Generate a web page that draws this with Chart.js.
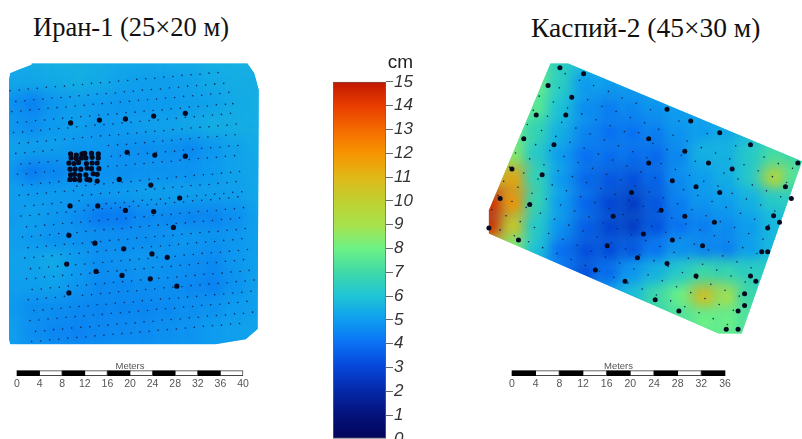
<!DOCTYPE html>
<html>
<head>
<meta charset="utf-8">
<script src="https://cdn.jsdelivr.net/npm/chart.js@4/dist/chart.umd.js"></script>
<style>
  html, body { margin: 0; background: #fff; width: 802px; height: 439px; overflow: hidden; }
  canvas, .head { position: absolute; }
  .head { font: 26.5px "Liberation Serif", serif; color: #111; white-space: nowrap; }
</style>
</head>
<body>
<div class="head" style="left:33px;top:12px">Иран-1 (25×20 м)</div>
<div class="head" style="left:531px;top:12px;font-size:27.5px">Каспий-2 (45×30 м)</div>
<canvas id="iran" width="270" height="300" style="left:0;top:50px"></canvas>
<canvas id="caspian" width="322" height="300" style="left:480px;top:50px"></canvas>
<canvas id="legend" width="80" height="420" style="left:333px;top:50px"></canvas>
<canvas id="iran-bar" width="270" height="38" style="left:0;top:355px"></canvas>
<canvas id="caspian-bar" width="270" height="38" style="left:490px;top:355px"></canvas>
<script>
// colour scale, cm
const scaleStops = [0, 1, 2, 3, 4, 5, 6, 7, 8, 9, 10, 11, 12, 13, 14, 15];
const scaleColors = ['#02065a', '#03117a', '#0528a8', '#0645d8', '#0a70f4', '#0f9cf0', '#1fc4d6', '#3fd9a8',
  '#6ef285', '#a8e24c', '#c0d030', '#e0b818', '#f79400', '#f56a00', '#e83c00', '#c01800'];
const scaleTicks = [0, 1, 2, 3, 4, 5, 6, 7, 8, 9, 10, 11, 12, 13, 14, 15];

// Iran-1: metres from the corner of the frame, settlement in cm
const iranCols = [2, 6, 10, 14, 18, 22, 26, 30, 34, 38, 42, 46];
const iranRows = [2, 6, 10, 14, 18, 22, 26, 30, 34, 38, 42, 46, 50];
const iranField = [
  [5.5, 5.5, 5.6, 5.6, 5.5, 5.4, 5.4, 5.5, 5.5, 5.6, 5.6, 5.6],
  [5.3, 5.3, 5.4, 5.5, 5.4, 5.2, 5.1, 5.1, 5.2, 5.4, 5.5, 5.5],
  [4.8, 4.4, 4.9, 5.1, 5.0, 4.9, 5.0, 5.0, 5.1, 5.2, 5.4, 5.5],
  [4.9, 4.7, 5.0, 5.1, 4.9, 5.0, 5.1, 5.2, 5.3, 5.5, 5.5, 5.5],
  [5.2, 5.1, 5.1, 4.9, 4.9, 4.8, 4.7, 4.8, 4.6, 4.9, 5.2, 5.4],
  [4.9, 4.3, 4.5, 4.7, 4.8, 4.7, 4.8, 4.8, 4.8, 5.0, 5.2, 5.3],
  [5.1, 5.0, 5.0, 5.0, 4.9, 5.0, 5.1, 5.1, 5.1, 5.1, 5.1, 5.3],
  [5.0, 5.1, 4.9, 4.7, 4.2, 4.2, 4.6, 4.6, 4.5, 4.5, 4.7, 5.1],
  [5.1, 5.0, 4.8, 4.8, 4.7, 4.7, 4.7, 4.8, 4.9, 4.8, 4.9, 5.1],
  [5.2, 5.2, 5.4, 5.0, 4.7, 4.8, 4.9, 4.8, 4.7, 4.6, 4.9, 5.1],
  [5.1, 5.1, 5.2, 4.9, 4.6, 4.6, 4.7, 4.7, 4.6, 4.4, 4.8, 5.1],
  [5.0, 4.7, 4.7, 4.6, 4.5, 4.5, 4.5, 4.6, 4.7, 4.8, 5.0, 5.1],
  [5.1, 4.7, 4.5, 4.4, 4.5, 4.6, 4.6, 4.7, 4.8, 5.0, 5.1, 5.2]
];
const iranOutline = [[1.6, 5.3], [1.8, 4.1], [3.5, 3.4], [5.6, 2.6], [5.6, 2.4], [43.8, 2.4], [45, 4.1], [45.8, 7.1],
  [45.6, 49.4], [43.5, 51.2], [38.2, 52.1], [1.8, 52.1], [1.6, 51.2]];
const iranLarge = [[12.5, 12.9], [17.6, 12.4], [22.2, 12.2], [27.2, 11.7], [32.8, 11.2], [22.5, 18.1], [27.4, 18.6],
  [32.8, 18.8], [21.1, 22.9], [26.7, 23.9], [31.8, 26.2], [12.4, 27.6], [17.3, 27.6], [22.2, 28.4], [27.2, 28.6],
  [30.7, 31.4], [12.2, 32.8], [16.8, 34.2], [21.9, 35.2], [26.9, 36.1], [29.6, 36.7], [11.8, 37.9], [17, 39.2],
  [21.6, 39.9], [26.6, 40.5], [31.3, 41.8], [12.2, 43],
  [12.5, 18.4], [13.5, 18.6], [14.5, 18.4], [15, 18.3], [16.2, 18.3], [17.4, 18.4],
  [12.6, 19.1], [13.5, 19.2], [14.4, 19.1], [15.2, 19.1], [16.3, 19], [17.4, 19.1],
  [12.2, 20], [13.1, 20.1], [13.9, 19.9], [15.3, 20.1], [16.3, 20], [17.2, 20],
  [12.4, 21.1], [13.3, 21.1], [14.3, 21.1], [15.4, 20.9], [16.2, 21], [17.5, 21],
  [12.5, 22.1], [13.2, 22], [14.1, 22.2], [15.2, 22.1], [16.5, 21.9], [17.2, 22],
  [12.4, 22.9], [13.2, 22.9], [14.1, 23], [15.4, 22.9], [15.9, 23], [17.2, 23.2]];
// small stations, x,y pairs line by line
const iranSmall = [
  1.8,7.2,3.4,7.1,5,6.9,6.6,6.8,8.2,6.6,9.8,6.5,11.4,6.4,13,6.2,14.6,6.1,16.2,5.9,17.8,5.8,19.4,5.7,21,5.5,22.6,5.4,24.2,5.2,25.8,5.1,27.4,5,29,4.8,30.6,4.7,32.2,4.5,33.8,4.4,35.4,4.3,37,4.1,38.6,4,
  2.8,9.1,4.4,9,6,8.8,7.6,8.7,9.2,8.5,10.8,8.4,12.4,8.3,14,8.1,15.6,8,17.2,7.8,18.8,7.7,20.4,7.6,22,7.4,23.6,7.3,25.2,7.1,26.8,7,28.4,6.9,30,6.7,31.6,6.6,33.2,6.4,34.8,6.3,36.4,6.2,38,6,39.6,5.9,
  2.1,10.9,3.7,10.8,5.3,10.6,6.9,10.5,8.5,10.3,10.1,10.2,11.7,10.1,13.3,9.9,14.9,9.8,16.5,9.6,18.1,9.5,19.7,9.4,21.3,9.2,22.9,9.1,24.5,8.9,26.1,8.8,27.7,8.7,29.3,8.5,30.9,8.4,32.5,8.2,34.1,8.1,35.7,8,37.3,7.8,38.9,7.7,40.5,7.5,
  3.1,12.8,4.7,12.7,6.3,12.5,7.9,12.4,9.5,12.2,11.1,12.1,12.7,12,14.3,11.8,15.9,11.7,17.5,11.5,19.1,11.4,20.7,11.3,22.3,11.1,23.9,11,25.5,10.8,27.1,10.7,28.7,10.6,30.3,10.4,31.9,10.3,33.5,10.1,35.1,10,36.7,9.9,38.3,9.7,39.9,9.6,41.2,9.5,
  2.4,14.6,4,14.5,5.6,14.3,7.2,14.2,8.8,14,10.4,13.9,12,13.8,13.6,13.6,15.2,13.5,16.8,13.3,18.4,13.2,20,13.1,21.6,12.9,23.2,12.8,24.8,12.6,26.4,12.5,28,12.4,29.6,12.2,31.2,12.1,32.8,11.9,34.4,11.8,36,11.7,37.6,11.5,39.2,11.4,40.8,11.2,
  3.4,16.5,5,16.4,6.6,16.2,8.2,16.1,9.8,15.9,11.4,15.8,13,15.7,14.6,15.5,16.2,15.4,17.8,15.2,19.4,15.1,21,15,22.6,14.8,24.2,14.7,25.8,14.5,27.4,14.4,29,14.3,30.6,14.1,32.2,14,33.8,13.8,35.4,13.7,37,13.6,38.6,13.4,40.2,13.3,41.8,13.1,
  2.8,18.3,4.4,18.2,6,18,7.6,17.9,9.2,17.7,19.2,16.9,20.8,16.8,22.4,16.7,24,16.5,25.6,16.4,27.2,16.2,28.8,16.1,30.4,16,32,15.8,33.6,15.7,35.2,15.5,36.8,15.4,38.4,15.3,40,15.1,41.6,15,
  3.7,20.2,5.3,20.1,6.9,19.9,8.5,19.8,10.1,19.6,19.7,18.8,21.3,18.7,22.9,18.6,24.5,18.4,26.1,18.3,27.7,18.1,29.3,18,30.9,17.9,32.5,17.7,34.1,17.6,35.7,17.4,37.3,17.3,38.9,17.2,40.5,17,42.1,16.9,
  3.1,22,4.7,21.9,6.3,21.7,7.9,21.6,9.5,21.4,19.1,20.6,20.7,20.5,22.3,20.4,23.9,20.2,25.5,20.1,27.1,19.9,28.7,19.8,30.3,19.7,31.9,19.5,33.5,19.4,35.1,19.2,36.7,19.1,38.3,19,39.9,18.8,41.5,18.7,
  4,23.9,5.6,23.8,7.2,23.6,8.8,23.5,10.4,23.3,12,23.2,13.6,24.1,15.2,24,16.8,23.8,18.4,23.7,20,23.5,21.6,23.4,23.2,23.3,24.8,23.1,26.4,22.9,28,22.8,29.6,22.7,31.2,22.5,32.8,22.4,34.4,22.2,36,22.1,37.6,22,39.2,21.8,40.8,21.7,42.4,21.5,
  3.4,25.7,5,25.6,6.6,25.4,8.2,25.3,9.8,25.1,11.4,25,13,24.9,14.6,25.7,16.2,25.6,17.8,25.4,19.4,25.3,21,25.2,22.6,25,24.2,24.9,25.8,24.7,27.4,24.6,29,24.5,30.6,24.3,32.2,24.2,33.8,24,35.4,23.9,37,23.8,38.6,23.6,40.2,23.5,41.8,23.3,
  4.4,27.6,6,27.5,7.6,27.3,9.2,27.2,10.8,27,14,26.7,15.6,27.5,17.2,27.4,18.8,27.2,20.4,27.1,22,27,23.6,26.8,25.2,26.6,26.8,26.5,28.4,26.4,30,26.2,31.6,26.1,33.2,25.9,34.8,25.8,36.4,25.7,38,25.5,39.6,25.4,41.2,25.2,42.8,25.1,
  3.7,29.4,5.3,29.3,6.9,29.1,8.5,29,10.1,28.8,11.7,28.7,13.3,28.6,14.9,28.4,16.5,28.3,18.1,28.1,19.7,28,21.3,27.9,22.9,27.7,24.5,27.6,26.1,27.4,27.7,27.3,29.3,27.2,30.9,27,32.5,26.9,34.1,26.7,35.7,26.6,37.3,26.5,38.9,26.3,40.5,26.2,42.1,26,
  4.7,31.3,6.3,31.2,7.9,31,9.5,30.9,11.1,30.7,12.7,30.6,14.3,30.5,15.9,30.3,17.5,30.2,19.1,30,20.7,29.9,22.3,29.8,23.9,29.6,25.5,29.5,27.1,29.3,28.7,29.2,30.3,29.1,31.9,28.9,33.5,28.8,35.1,28.6,36.7,28.5,38.3,28.4,39.9,28.2,41.5,28.1,43.1,27.9,
  4,33.1,5.6,33,7.2,32.8,8.8,32.7,10.4,32.5,12,32.4,13.6,32.3,15.2,32.1,16.8,32,18.4,31.8,20,31.7,21.6,31.6,23.2,31.4,24.8,31.3,26.4,31.1,28,31,29.6,30.9,31.2,30.7,32.8,30.6,34.4,30.4,36,30.3,37.6,30.2,39.2,30,40.8,29.9,42.4,29.7,
  5,35,6.6,34.9,8.2,34.7,9.8,34.6,11.4,34.4,13,34.3,14.6,34.2,16.2,34,17.8,33.9,19.4,33.7,21,33.6,22.6,33.5,24.2,33.3,25.8,33.2,27.4,33,29,32.9,30.6,32.8,32.2,32.6,33.8,32.5,35.4,32.3,37,32.2,38.6,32.1,40.2,31.9,41.8,31.8,43.4,31.6,
  4.4,36.8,6,36.7,7.6,36.5,9.2,36.4,10.8,36.2,12.4,36.1,14,36,15.6,35.8,17.2,35.7,18.8,35.5,20.4,35.4,22,35.3,23.6,35.1,25.2,35,26.8,34.8,28.4,34.7,30,34.6,31.6,34.4,33.2,34.3,34.8,34.1,36.4,34,38,33.9,39.6,33.7,41.2,33.6,42.8,33.4,
  5.4,38.7,7,38.6,8.6,38.4,10.2,38.3,11.8,38.1,13.4,38,15,37.9,16.6,37.7,18.2,37.6,19.8,37.4,21.4,37.3,23,37.2,24.6,37,26.2,36.9,27.8,36.7,29.4,36.6,31,36.5,32.6,36.3,34.2,36.2,35.8,36,37.4,35.9,39,35.8,40.6,35.6,42.2,35.5,43.8,35.3,
  4.7,40.5,6.3,40.4,7.9,40.2,9.5,40.1,11.1,39.9,12.7,39.8,14.3,39.7,15.9,39.5,17.5,39.4,19.1,39.2,20.7,39.1,22.3,39,23.9,38.8,25.5,38.7,27.1,38.5,28.7,38.4,30.3,38.3,31.9,38.1,33.5,38,35.1,37.8,36.7,37.7,38.3,37.6,39.9,37.4,41.5,37.3,43.1,37.1,
  5.7,42.4,7.3,42.3,8.9,42.1,10.5,42,12.1,41.8,13.7,41.7,15.3,41.6,16.9,41.4,18.5,41.3,20.1,41.1,21.7,41,23.3,40.9,24.9,40.7,26.5,40.6,28.1,40.4,29.7,40.3,31.3,40.2,32.9,40,34.5,39.9,36.1,39.7,37.7,39.6,39.3,39.5,40.9,39.3,42.5,39.2,44.1,39,
  5,44.2,6.6,44.1,8.2,43.9,9.8,43.8,11.4,43.6,14.6,43.4,16.2,43.3,17.8,43.1,19.4,43,21,42.8,22.6,42.7,24.2,42.6,25.8,42.4,27.4,42.3,29,42.1,30.6,42,32.2,41.9,33.8,41.7,35.4,41.6,37,41.4,38.6,41.3,40.2,41.2,41.8,41,43.4,40.9,45,40.7,
  6,46.1,7.6,46,9.2,45.8,10.8,45.7,12.4,45.5,14,45.4,15.6,45.3,17.2,45.1,18.8,45,20.4,44.8,22,44.7,23.6,44.6,25.2,44.4,26.8,44.3,28.4,44.1,30,44,31.6,43.9,33.2,43.7,34.8,43.6,36.4,43.4,38,43.3,39.6,43.2,41.2,43,42.8,42.9,44.4,42.7,
  5.3,47.9,6.9,47.8,8.5,47.6,10.1,47.5,11.7,47.3,13.3,47.2,14.9,47.1,16.5,46.9,18.1,46.8,19.7,46.6,21.3,46.5,22.9,46.4,24.5,46.2,26.1,46.1,27.7,45.9,29.3,45.8,30.9,45.7,32.5,45.5,34.1,45.4,35.7,45.2,37.3,45.1,38.9,45,40.5,44.8,42.1,44.7,43.7,44.5,
  6.3,49.8,7.9,49.7,9.5,49.5,11.1,49.4,12.7,49.2,14.3,49.1,15.9,49,17.5,48.8,19.1,48.7,20.7,48.5,22.3,48.4,23.9,48.3,25.5,48.1,27.1,48,28.7,47.8,30.3,47.7,31.9,47.6,33.5,47.4,35.1,47.3,36.7,47.1,38.3,47,39.9,46.9,41.5,46.7,43.1,46.6,44.7,46.4,
  5.6,51.6,7.2,51.5,8.8,51.3,10.4,51.2,12,51,13.6,50.9,15.2,50.8,16.8,50.6,18.4,50.5,20,50.3,21.6,50.2,23.2,50.1,24.8,49.9,26.4,49.8,28,49.6,29.6,49.5,31.2,49.4,32.8,49.2,34.4,49.1,36,48.9,37.6,48.8,39.2,48.7,40.8,48.5,42.4,48.4
];

// Caspian-2: same idea
const caspianCols = [2, 6, 10, 14, 18, 22, 26, 30, 34, 38, 42, 46, 50, 54];
const caspianRows = [2, 6, 10, 14, 18, 22, 26, 30, 34, 38, 42, 46, 50];
const caspianField = [
  [8.0, 8.0, 7.5, 6.5, 6.0, 5.5, 5.0, 5.0, 5.0, 5.0, 5.0, 5.0, 6.0, 6.0],
  [8.5, 8.5, 8.0, 6.5, 5.0, 5.0, 5.0, 5.0, 5.0, 5.0, 5.0, 5.0, 6.0, 6.0],
  [8.5, 8.5, 7.7, 6.0, 4.7, 4.3, 4.5, 4.8, 5.0, 5.0, 5.0, 5.5, 6.0, 6.0],
  [8.5, 8.0, 6.8, 5.5, 4.5, 4.0, 4.0, 4.3, 4.8, 5.0, 5.3, 5.7, 6.3, 6.5],
  [9.0, 8.5, 6.3, 5.0, 4.0, 3.9, 3.9, 3.8, 4.5, 5.5, 5.5, 6.3, 7.2, 7.0],
  [11.0, 11.5, 6.7, 5.0, 3.8, 3.4, 3.2, 3.6, 4.6, 5.0, 5.4, 6.3, 9.6, 7.5],
  [14.5, 12.0, 6.8, 5.0, 3.8, 3.0, 2.6, 3.3, 4.3, 4.8, 5.0, 5.5, 6.3, 6.5],
  [14.5, 10.5, 6.3, 4.8, 3.6, 2.9, 2.6, 3.2, 4.0, 4.3, 4.6, 5.0, 5.7, 6.0],
  [11.0, 8.5, 6.0, 4.0, 3.2, 3.1, 3.3, 4.0, 4.7, 4.4, 4.3, 5.0, 5.7, 6.0],
  [8.0, 7.0, 5.0, 4.0, 3.2, 3.8, 4.8, 5.5, 6.3, 7.0, 6.8, 6.5, 6.5, 6.5],
  [6.0, 6.0, 5.0, 4.0, 4.0, 5.0, 5.8, 7.0, 8.0, 10.6, 9.0, 7.0, 6.5, 6.5],
  [6.0, 6.0, 5.0, 5.0, 5.0, 5.5, 6.0, 7.0, 7.5, 8.0, 8.0, 7.5, 7.0, 7.0],
  [6.0, 6.0, 5.0, 5.0, 5.0, 5.5, 6.0, 7.0, 7.5, 8.0, 8.0, 7.5, 7.0, 7.0]
];
const caspianOutline = [[11.9, 2.3], [14.9, 2.3], [54.4, 18.8], [44.2, 47.9], [40.3, 47.9], [1.5, 31], [1.5, 27.1]];
const caspianLarge = [[13.5, 3], [17.5, 4], [11.5, 6], [15.5, 8], [9.5, 11], [14.5, 11], [31.6, 10], [35.6, 12], [40.5, 14],
  [7.4, 15], [12.5, 16], [28.5, 15], [45.7, 16], [34.6, 17.1], [28.5, 19.1], [38.6, 19.1], [53.7, 19.1], [42.6, 20.1],
  [5.4, 20.1], [10.5, 21.1], [32.5, 22.1], [36.5, 23.1], [51.6, 23.1], [25.6, 24.1], [40.5, 24.1], [52.6, 25.1],
  [3.4, 25.1], [8.4, 26.1], [30.6, 27.1], [22.5, 28.1], [34.6, 28.1], [49.6, 28], [39.6, 29.1], [50.6, 29.1],
  [48.6, 30.1], [1.5, 30.1], [27.6, 31.1], [6.5, 32.1], [32.5, 32.1], [21.5, 33.1], [37.6, 33.1], [47.6, 34.1],
  [48.6, 34.1], [26.6, 35.1], [31.6, 36.1], [19.5, 37.2], [36.5, 38.2], [45.7, 38.2], [24.5, 39.1], [46.6, 39.1],
  [44.7, 41.2], [29.6, 42.2], [44.7, 43.2], [43.6, 44.1], [33.6, 44.1], [41.6, 47.2], [43.6, 47.2]];
const caspianSmall = [
  14.4,4,16.8,5.1,19.2,6,21.7,7,24,8.1,26.4,9,28.8,10.1,33.6,12,38.4,14.1,43.2,16.2,48,18.1,50.4,19.2,52.8,20,
  13.4,6.4,18.2,8.4,20.6,9.5,23,10.4,25.4,11.4,27.8,12.3,30.2,13.4,32.6,14.4,35,15.4,37.4,16.5,39.8,17.4,42.2,18.4,44.6,19.4,47,20.4,49.4,21.4,51.8,22.4,
  10,7.8,12.4,8.8,14.8,9.8,17.2,10.8,19.6,11.8,22,12.8,24.4,13.8,26.8,14,29.2,15.8,31.6,16.8,34,17.8,36.4,18.8,41.2,20.8,43.6,21.8,46,22.8,48.4,23.8,50.8,24.8,
  9,10.2,11.4,11.2,13.8,12.2,16.2,13.2,18.6,14.2,21,15.2,23.4,16.2,25.8,17.2,28.2,18.2,30.6,19.2,33,20.2,35.4,21.2,37.8,22.2,40.2,23,42.6,24.2,45,25.2,47.4,26.2,49.8,27.2,
  8,12.6,10.4,13.6,12.8,14.6,15.2,15.6,17.6,16.6,20,17.6,22.4,18.6,24.8,19.6,27.2,20.6,29.6,21.6,34.4,23.6,36.8,24.6,39.2,25.6,41.6,26.6,44,27.6,46.4,28.6,48.8,29.6,
  9.4,16,11.8,17,14.2,18,16.6,19,19,20,21.4,21,23.8,22,26.2,23,28.6,24,31,25,33.4,26,35.8,27,38.2,28,40.6,29,43,30,45.4,31,47.8,32,
  6,17.4,8.4,18.4,10.8,19.4,13.2,20.4,15.6,21.4,18,22.4,20.4,23.4,22.8,24.4,25.2,25.4,27.6,26.4,30,27.4,32.4,28.4,34.8,29.4,37.2,30.4,39.6,31.4,42,32.4,44.4,33.4,46.8,34.4,
  5,19.8,7.4,20.8,9.8,21.8,12.2,22.8,14.6,23.8,17,24.8,19.4,25.8,21.8,26.8,24.2,27.8,26.6,28.8,29,29.8,31.4,30.8,33.8,31.8,36.2,32.8,38.6,33.8,41,34.8,43.4,35.8,45.8,36.8,
  4,22.2,6.4,23.2,8.8,24.2,11.2,25.2,13.6,26.2,16,27.2,18.4,28.2,20.8,29.2,23.2,30.2,25.6,31.2,28,32.2,30.4,33.2,32.8,34.2,35.2,35.2,37.6,36.2,40,37.2,42.4,38.2,44.8,39.2,
  3,24.6,5.4,25.6,7.8,26.6,10.2,27.6,12.6,28.6,15,29.6,17.4,30.6,19.8,31.6,22.2,32.6,24.6,33.6,27,34.6,29.4,35.6,31.8,36.6,34.2,37.6,36.6,38.6,39,39.6,41.4,40.6,43.8,41.6,
  2,27,4.4,28,6.8,29,9.2,30,11.6,31,14,32,16.4,33,18.8,34,21.2,35,23.6,36,26,37,28.4,38,30.8,39,33.2,40,35.6,41,38,42,40.4,43,42.8,44,
  3.4,30.4,5.8,31.4,8.2,32.4,10.6,33.4,13,34.4,15.4,35.4,17.8,36.4,20.2,37.4,22.6,38.4,25,39.4,27.4,40.4,29.8,41.4,32.2,42.4,34.6,43.4,37,44.4,39.4,45.4,41.8,46.4
];

// scale bars, metres
const iranBarEdges = [0, 4, 8, 12, 16, 20, 24, 28, 32, 36, 40];
const caspianBarEdges = [0, 4, 8, 12, 16, 20, 24, 28, 32, 36];

Chart.defaults.animation = false;
Chart.defaults.font.family = '"Liberation Sans", Arial, sans-serif';
Chart.defaults.plugins.legend.display = false;
Chart.defaults.plugins.tooltip.enabled = false;

function colorFor(cm) {
  let i = 0;
  while (i < scaleStops.length - 2 && cm > scaleStops[i + 1]) i++;
  const t = (cm - scaleStops[i]) / (scaleStops[i + 1] - scaleStops[i]);
  const a = parseInt(scaleColors[i].slice(1), 16);
  const b = parseInt(scaleColors[i + 1].slice(1), 16);
  const mix = shift => Math.round(((a >> shift) & 255) * (1 - t) + ((b >> shift) & 255) * t);
  return `rgb(${mix(16)},${mix(8)},${mix(0)})`;
}

const toPoints = list => list.map(p => ({ x: p[0], y: p[1] }));

function pairsToPoints(flat) {
  const points = [];
  for (let i = 0; i < flat.length; i += 2) points.push({ x: flat[i], y: flat[i + 1] });
  return points;
}

// clips the field to the surveyed outline and softens the cells into a continuous surface
const fieldSurface = {
  id: 'fieldSurface',
  beforeDatasetDraw(chart, args, opts) {
    if (args.index !== 2) return;
    const { ctx, scales } = chart;
    ctx.save();
    ctx.beginPath();
    opts.outline.forEach(p => ctx.lineTo(scales.x.getPixelForValue(p[0]), scales.y.getPixelForValue(p[1])));
    ctx.closePath();
    ctx.clip();
    ctx.fillStyle = colorFor(opts.base);
    ctx.fill();
    ctx.filter = `blur(${opts.blur}px)`;
  },
  afterDatasetDraw(chart, args) {
    if (args.index === 2) chart.ctx.restore();
  }
};

function drawMap(id, cols, rows, field, outline, large, small, opts) {
  const cells = [];
  const colors = [];
  rows.forEach((y, j) => cols.forEach((x, i) => {
    cells.push({ x, y });
    colors.push(colorFor(field[j][i]));
  }));
  new Chart(document.getElementById(id), {
    type: 'scatter',
    data: {
      datasets: [
        { data: toPoints(large), pointRadius: opts.largeRadius, pointBackgroundColor: '#050a20', pointBorderWidth: 0 },
        { data: pairsToPoints(small), pointRadius: 0.8, pointBackgroundColor: '#0c2a5c', pointBorderWidth: 0 },
        { data: cells, pointStyle: 'rect', pointRadius: opts.cellRadius, pointBackgroundColor: colors, pointBorderWidth: 0 }
      ]
    },
    options: {
      responsive: false,
      events: [],
      layout: { padding: 0, autoPadding: false },
      scales: {
        x: { type: 'linear', display: false, min: 0, max: opts.xMax },
        y: { type: 'linear', display: false, min: 0, max: opts.yMax, reverse: true }
      },
      plugins: { fieldSurface: { outline, base: opts.base, blur: opts.blur } }
    },
    plugins: [fieldSurface]
  });
}

function drawScaleBar(id, edges, padLeft, padRight) {
  const datasets = edges.slice(1).map((edge, i) => ({
    data: [edge - edges[i]],
    backgroundColor: i % 2 ? '#fff' : '#000',
    borderColor: '#444',
    borderWidth: i % 2 ? 1 : 0,
    barThickness: 5,
    clip: false
  }));
  new Chart(document.getElementById(id), {
    type: 'bar',
    data: { labels: ['m'], datasets },
    options: {
      indexAxis: 'y',
      responsive: false,
      events: [],
      layout: { padding: { left: padLeft, right: padRight, top: 0, bottom: 0 } },
      scales: {
        x: {
          type: 'linear', stacked: true, min: edges[0], max: edges[edges.length - 1],
          grid: { display: false, drawTicks: false }, border: { display: false },
          ticks: { stepSize: 4, color: '#555', font: { size: 10.5 }, padding: 4, maxRotation: 0 }
        },
        y: { stacked: true, display: false }
      },
      plugins: {
        title: { display: true, text: 'Meters', color: '#555', font: { size: 9.5, weight: 'normal' }, padding: { top: 6, bottom: 0 } }
      }
    }
  });
}

function barGradient(context) {
  const { chart } = context;
  if (!chart.chartArea) return '#000';
  const yScale = chart.scales.y;
  const g = chart.ctx.createLinearGradient(0, yScale.getPixelForValue(0), 0, yScale.getPixelForValue(15));
  scaleStops.forEach((s, i) => g.addColorStop(s / 15, scaleColors[i]));
  return g;
}

new Chart(document.getElementById('legend'), {
  type: 'bar',
  data: {
    labels: ['cm'],
    datasets: [{ data: [[scaleStops[0], scaleStops[scaleStops.length - 1]]], backgroundColor: barGradient, borderColor: '#666', borderWidth: 1, borderSkipped: false, categoryPercentage: 1, barPercentage: 1 }]
  },
  options: {
    responsive: false,
    events: [],
    layout: { padding: { top: 0, bottom: 31 } },
    scales: {
      x: { display: false },
      y: {
        position: 'right',
        min: 0,
        max: 15,
        afterFit: scale => { scale.width = 27; },
        afterBuildTicks: scale => { scale.ticks = scaleTicks.map(value => ({ value })); },
        grid: { drawOnChartArea: false, tickLength: 7, color: '#666' },
        border: { display: false },
        ticks: { color: '#333', padding: 1, font: { size: 17, style: 'italic' } }
      }
    },
    plugins: {
      title: { display: true, text: 'cm', align: 'end', color: '#222', font: { size: 19, weight: 'normal' }, padding: { top: 1, bottom: 8 } }
    }
  }
});

drawMap('iran', iranCols, iranRows, iranField, iranOutline, iranLarge, iranSmall,
  { xMax: 47.79, yMax: 53.1, largeRadius: 2.6, cellRadius: 19, blur: 7, base: 5 });
drawMap('caspian', caspianCols, caspianRows, caspianField, caspianOutline, caspianLarge, caspianSmall,
  { xMax: 54.4, yMax: 50.7, largeRadius: 2.5, cellRadius: 20, blur: 7, base: 6 });
drawScaleBar('iran-bar', iranBarEdges, 17, 27);
drawScaleBar('caspian-bar', caspianBarEdges, 22, 35);
</script>
</body>
</html>
